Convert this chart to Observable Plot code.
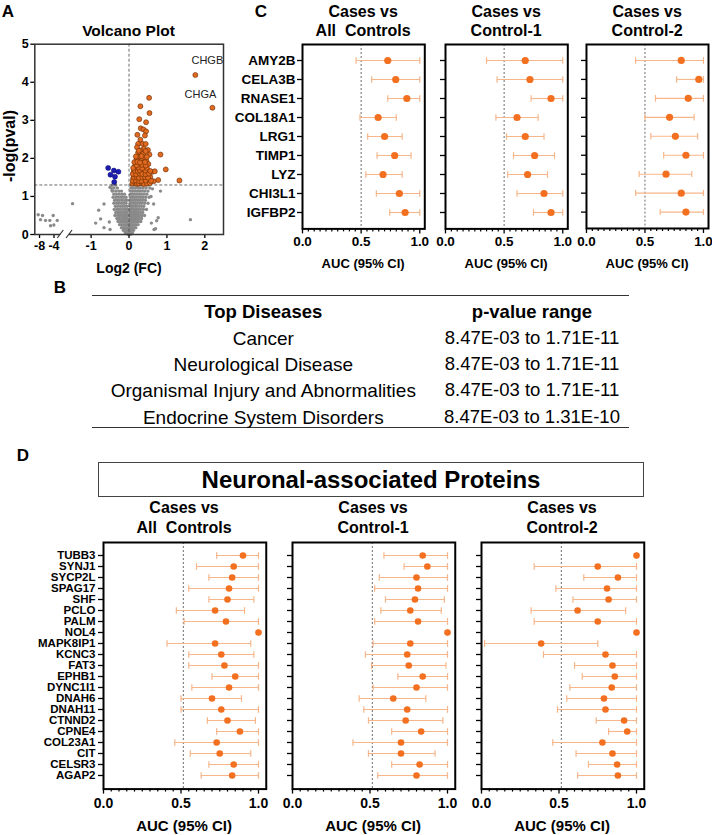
<!DOCTYPE html>
<html><head><meta charset="utf-8">
<script src="https://cdn.jsdelivr.net/npm/d3@7"></script>
<script src="https://cdn.jsdelivr.net/npm/@observablehq/plot@0.6"></script>
<style>
body{margin:0;background:#fff;}
#page{position:relative;width:712px;height:835px;overflow:hidden;font-family:"Liberation Sans",Arial,Helvetica,sans-serif;color:#000;background:#fff;}
.t{position:absolute;white-space:pre;line-height:1;}
svg{display:block;}
</style></head><body><div id="page"></div>
<script>
// ---------------- DATA ----------------
// Panel A volcano: [log2FC, -log10 p]
const volcanoOrange = [
 [1.75,4.19],[2.20,3.33],[0.53,3.59],[0.30,3.37],[0.54,3.19],[0.27,3.03],[0.45,2.95],[0.31,2.79],[0.38,2.76],[0.45,2.71],
 [0.22,2.62],[0.42,2.60],[0.30,2.49],[0.24,2.38],[0.36,2.38],[0.44,2.38],[0.21,2.29],[0.39,2.25],[0.30,2.21],[0.50,2.22],
 [0.24,2.15],[0.37,2.12],[0.54,2.10],[0.83,2.10],[0.25,2.03],[0.41,2.01],[0.20,1.97],[0.33,1.93],[0.46,1.93],[0.37,1.88],
 [0.25,1.85],[0.51,1.85],[0.16,1.80],[0.30,1.78],[0.41,1.76],[0.97,1.71],[0.21,1.71],[0.34,1.69],[0.51,1.67],[0.12,1.64],
 [0.25,1.63],[0.40,1.62],[0.60,1.64],[0.68,1.66],[0.16,1.56],[0.30,1.53],[0.47,1.56],[0.56,1.51],[0.77,1.43],[1.33,1.42],
 [0.11,1.48],[0.23,1.45],[0.38,1.45],[0.51,1.42],[0.14,1.38],[0.30,1.38],[0.43,1.38],[0.65,1.40],
 [0.09,1.34],[0.17,1.35],[0.21,1.33],[0.26,1.34],[0.34,1.35],[0.39,1.33],[0.47,1.34],[0.55,1.35],
 [0.10,1.41],[0.18,1.42],[0.27,1.40],[0.33,1.41],[0.44,1.42],[0.58,1.41],
 [0.13,1.50],[0.20,1.51],[0.26,1.49],[0.35,1.50],[0.42,1.51],[0.50,1.49],
 [0.10,1.59],[0.19,1.58],[0.28,1.60],[0.35,1.59],[0.44,1.58],[0.52,1.60],
 [0.15,1.68],[0.23,1.67],[0.28,1.69],[0.43,1.68],[0.56,1.67],
 [0.11,1.75],[0.25,1.76],[0.35,1.74],[0.47,1.75],
 [0.20,1.82],[0.34,1.83],[0.44,1.81],
 [0.14,1.90],[0.22,1.91],[0.29,1.89],[0.42,1.90],
 [0.18,2.05],[0.33,2.06],[0.47,2.04],[0.26,2.20],[0.44,2.19]
];
const volcanoBlue = [[-0.55,1.75],[-0.40,1.68],[-0.28,1.65],[-0.49,1.57],[-0.37,1.52],[-0.39,1.38]];
const volcanoGrayScatter = [
 [-8.37,0.52],[-7.17,0.50],[-7.73,0.39],[-6.35,0.37],[-5.16,0.37],[-4.22,0.50],[-3.11,0.37],[-4.05,0.25],[-4.96,0.23],
 [-1.49,0.81],[0.83,1.14],[1.62,0.39],[0.70,0.15],[0.66,0.13],[0.73,0.36],[-0.66,0.80],[-0.80,0.64],[-0.88,0.30],
 [-0.66,0.18],[-0.50,0.13],[-0.52,0.33],[0.65,0.80],[0.77,0.44],[0.59,0.30],[-0.75,0.41],[-0.50,1.24],[-0.45,1.15],
 [0.58,1.00],[0.62,1.20]
];
// dense grey cloud, read row by row: [-log10 p, [log2FC values]]
const volcanoGrayRows = [
 [1.30,[-0.44,-0.36,0.06,0.13,0.20,0.27,0.34,0.42,0.50]],
 [1.22,[-0.47,-0.40,-0.31,0.05,0.11,0.17,0.24,0.30,0.37,0.45,0.55]],
 [1.14,[-0.43,-0.35,-0.27,-0.20,0.05,0.10,0.16,0.22,0.28,0.35,0.42,0.50]],
 [1.06,[-0.40,-0.33,-0.26,-0.19,-0.12,0.04,0.09,0.14,0.20,0.26,0.32,0.39,0.47]],
 [0.98,[-0.42,-0.35,-0.28,-0.21,-0.15,-0.08,0.04,0.09,0.14,0.19,0.25,0.31,0.37,0.44,0.53]],
 [0.90,[-0.38,-0.31,-0.25,-0.18,-0.11,-0.06,0.03,0.08,0.13,0.18,0.24,0.30,0.36,0.43]],
 [0.82,[-0.40,-0.33,-0.27,-0.20,-0.14,-0.08,0.03,0.07,0.12,0.17,0.22,0.28,0.34,0.41,0.50]],
 [0.74,[-0.36,-0.30,-0.23,-0.17,-0.11,-0.05,0.03,0.07,0.11,0.16,0.21,0.27,0.33,0.39]],
 [0.66,[-0.39,-0.32,-0.26,-0.20,-0.14,-0.08,-0.03,0.02,0.06,0.11,0.15,0.20,0.25,0.31,0.38,0.46]],
 [0.58,[-0.35,-0.29,-0.23,-0.17,-0.11,-0.06,0.02,0.06,0.10,0.15,0.19,0.24,0.30,0.36]],
 [0.50,[-0.37,-0.30,-0.24,-0.18,-0.13,-0.08,-0.03,0.02,0.06,0.10,0.14,0.18,0.23,0.28,0.34,0.41]],
 [0.42,[-0.32,-0.26,-0.20,-0.15,-0.10,-0.05,0.02,0.05,0.09,0.13,0.17,0.22,0.27,0.33]],
 [0.34,[-0.29,-0.23,-0.18,-0.13,-0.08,-0.04,0.01,0.05,0.08,0.12,0.16,0.20,0.25,0.31]],
 [0.26,[-0.25,-0.20,-0.15,-0.10,-0.06,-0.02,0.01,0.04,0.07,0.11,0.15,0.19,0.24]],
 [0.18,[-0.20,-0.15,-0.11,-0.07,-0.03,0.01,0.04,0.07,0.10,0.14,0.18]],
 [0.11,[-0.15,-0.11,-0.07,-0.04,-0.01,0.02,0.05,0.08,0.12]],
 [0.05,[-0.10,-0.06,-0.03,0.00,0.03,0.06,0.09]],
 [0.01,[-0.04,-0.01,0.02,0.05]]
];
const volcanoLabels = ["CHGB","CHGA"];
const volcanoLabelPts = [[1.75,4.19],[2.20,3.33]];
const volcanoYTicks = [0,1,2,3,4,5];
const volcanoXTicks = [-8,-4,-1,0,1,2];
const sigThreshold = 1.301;

// Panel C
const genesC = ["AMY2B","CELA3B","RNASE1","COL18A1","LRG1","TIMP1","LYZ","CHI3L1","IGFBP2"];
const cAllEst = [0.727,0.795,0.89,0.645,0.70,0.786,0.687,0.826,0.875];
const cAllLo  = [0.457,0.59,0.727,0.49,0.556,0.636,0.54,0.63,0.744];
const cAllHi  = [1,1,1,0.80,0.85,0.926,0.85,1,1];
const cC1Est  = [0.68,0.72,0.90,0.61,0.68,0.76,0.70,0.84,0.90];
const cC1Lo   = [0.35,0.44,0.73,0.43,0.52,0.58,0.53,0.61,0.75];
const cC1Hi   = [1,1,1,0.79,0.84,0.93,0.87,1,1];
const cC2Est  = [0.81,0.96,0.87,0.71,0.76,0.85,0.68,0.81,0.85];
const cC2Lo   = [0.42,0.77,0.59,0.50,0.55,0.66,0.45,0.42,0.63];
const cC2Hi   = [1,1,1,0.92,0.95,1,0.90,1,1];

// Panel D
const genesD = ["TUBB3","SYNJ1","SYCP2L","SPAG17","SHF","PCLO","PALM","NOL4","MAPK8IP1","KCNC3","FAT3","EPHB1","DYNC1I1","DNAH6","DNAH11","CTNND2","CPNE4","COL23A1","CIT","CELSR3","AGAP2"];
const dAllEst = [0.90,0.84,0.83,0.81,0.80,0.72,0.79,1.00,0.72,0.76,0.78,0.85,0.81,0.70,0.76,0.80,0.88,0.73,0.75,0.84,0.83];
const dAllLo  = [0.73,0.60,0.68,0.55,0.68,0.47,0.52,1.00,0.41,0.55,0.55,0.70,0.57,0.50,0.50,0.67,0.73,0.46,0.56,0.68,0.63];
const dAllHi  = [1,1,1,1,0.97,0.91,1,1,0.95,0.97,1,1,1,0.89,1,0.98,1,1,0.95,1,1];
const dC1Est  = [0.84,0.87,0.80,0.81,0.79,0.76,0.81,1.00,0.76,0.74,0.75,0.84,0.80,0.65,0.74,0.73,0.83,0.70,0.70,0.82,0.80];
const dC1Lo   = [0.59,0.72,0.56,0.53,0.60,0.57,0.53,1.00,0.52,0.47,0.51,0.68,0.52,0.43,0.46,0.49,0.64,0.39,0.49,0.64,0.55];
const dC1Hi   = [1,1,1,1,0.98,0.96,1,1,1,1,0.99,1,1,0.86,1,0.97,1,1,0.92,1,1];
const dC2Est  = [1.00,0.75,0.88,0.81,0.82,0.62,0.75,1.00,0.385,0.80,0.845,0.86,0.84,0.79,0.80,0.92,0.94,0.78,0.845,0.875,0.88];
const dC2Lo   = [1.00,0.34,0.66,0.48,0.59,0.32,0.34,1.00,0.02,0.40,0.60,0.65,0.57,0.55,0.49,0.74,0.82,0.46,0.61,0.69,0.62];
const dC2Hi   = [1,1,1,1,1,0.93,1,1,0.75,1,1,1,1,1,1,1,1,1,1,1,1];

const aucTicks = [0, 0.5, 1];
const aucMinorTicks = [0.05,0.1,0.15,0.2,0.25,0.3,0.35,0.4,0.45,0.55,0.6,0.65,0.7,0.75,0.8,0.85,0.9,0.95];
const comparisonTitles = [["Cases vs","All  Controls"],["Cases vs","Control-1"],["Cases vs","Control-2"]];

// Panel B table
const tableHeaders = ["Top Diseases","p-value range"];
const diseases = ["Cancer","Neurological Disease","Organismal Injury and Abnormalities","Endocrine System Disorders"];
const pRanges = ["8.47E-03 to 1.71E-11","8.47E-03 to 1.71E-11","8.47E-03 to 1.71E-11","8.47E-03 to 1.31E-10"];

// ---------------- HELPERS ----------------
const FONT = '"Liberation Sans", Arial, Helvetica, sans-serif';
const page = document.getElementById("page");
function txt(s, cx, cy, size, weight = "bold", rot = 0) {
  const d = document.createElement("div");
  d.className = "t";
  d.textContent = s;
  d.style.left = cx + "px"; d.style.top = cy + "px";
  d.style.fontSize = size + "px"; d.style.fontWeight = weight;
  d.style.transform = "translate(-50%,-50%)" + (rot ? ` rotate(${rot}deg)` : "");
  page.appendChild(d);
}
function place(node, left, top) {
  const d = document.createElement("div");
  d.style.position = "absolute"; d.style.left = left + "px"; d.style.top = top + "px";
  d.appendChild(node); page.appendChild(d);
}
function box(left, top, w, h, css) {
  const d = document.createElement("div");
  d.style.position = "absolute"; d.style.left = left + "px"; d.style.top = top + "px";
  d.style.width = w + "px"; d.style.height = h + "px";
  d.style.boxSizing = "border-box";
  Object.assign(d.style, css);
  page.appendChild(d);
  return d;
}

const ORANGE = "#f37021", CI = "#f6b68a";

function forest(names, est, lo, hi, opt) {
  const data = names.map((n, i) => ({n, e: est[i], lo: lo[i], hi: hi[i]}));
  const mL = 10, mT = 2, mR = 4, mB = 40;
  const p = Plot.plot({
    width: mL + opt.plotW + mR, height: mT + opt.plotH + mB,
    marginLeft: mL, marginRight: mR, marginTop: mT, marginBottom: mB,
    style: {overflow: "visible", fontFamily: FONT, background: "transparent", color: "#000"},
    x: {domain: [0, opt.xmax], label: null},
    y: {type: "point", domain: names, padding: opt.padding, label: null},
    marks: [
      Plot.ruleX([opt.ref], {stroke: "#444", strokeWidth: 0.8, strokeDasharray: "2,2"}),
      Plot.link(data, {x1: "lo", x2: "hi", y1: "n", y2: "n", stroke: CI, strokeWidth: 1.1, markerStart: "tick", markerEnd: "tick"}),
      Plot.dot(data, {x: "e", y: "n", r: opt.r, fill: ORANGE, stroke: "none"}),
      Plot.axisY({tickSize: 5, tickPadding: opt.yPad, fontSize: opt.yFont, fontWeight: "bold", label: null,
        tickFormat: opt.labels ? (d => d) : (() => ""), strokeWidth: 1.3}),
      Plot.axisX({ticks: aucMinorTicks, tickSize: 3, tickFormat: () => "", label: null, strokeWidth: 1.2}),
      Plot.axisX({ticks: aucTicks, tickSize: 5, tickPadding: opt.xPad, fontSize: opt.xFont, fontWeight: "bold",
        tickFormat: d => d.toFixed(1), label: null, strokeWidth: 1.3}),
      Plot.frame({stroke: "#000", strokeWidth: 2})
    ]
  });
  place(p, opt.left - mL, opt.top - mT);
}

// ---------------- PANEL A ----------------
function brk(x) { return x < -2.5 ? -1.979 + (x + 4) * 0.0955 : x; }
const grayPts = volcanoGrayScatter.concat(volcanoGrayRows.flatMap(([y, xs]) => xs.map(x => [x, y])));
const xTickPos = volcanoXTicks.map(brk);
const xTickLab = new Map(xTickPos.map((p, i) => [p, String(volcanoXTicks[i])]));
const labelData = volcanoLabels.map((t, i) => ({t, x: volcanoLabelPts[i][0], y: volcanoLabelPts[i][1]}));
const vol = Plot.plot({
  width: 230, height: 280, marginLeft: 34.3, marginRight: 7, marginTop: 43.7, marginBottom: 46,
  style: {overflow: "visible", fontFamily: FONT, background: "transparent", color: "#000"},
  x: {domain: [-2.486, 2.493], label: null},
  y: {domain: [0, 5], label: null},
  marks: [
    Plot.dot(grayPts, {x: d => brk(d[0]), y: d => d[1], r: 1.7, fill: "#8a8a8a", stroke: "none"}),
    Plot.ruleY([sigThreshold], {stroke: "#444", strokeWidth: 0.8, strokeDasharray: "3,2"}),
    Plot.ruleX([0], {stroke: "#444", strokeWidth: 0.8, strokeDasharray: "3,2"}),
    Plot.dot(volcanoBlue, {x: d => brk(d[0]), y: d => d[1], r: 2.5, fill: "#1d1db0", stroke: "#000070", strokeWidth: 0.5}),
    Plot.dot(volcanoOrange, {x: d => brk(d[0]), y: d => d[1], r: 2.5, fill: "#e06a20", stroke: "#6a2a00", strokeWidth: 0.6}),
    Plot.text(labelData.filter(d => d.t === "CHGB"), {x: "x", y: "y", text: "t", dx: 12, dy: -15, fontSize: 11, fontWeight: "normal", fill: "#222"}),
    Plot.text(labelData.filter(d => d.t === "CHGA"), {x: "x", y: "y", text: "t", dx: -12, dy: -13, fontSize: 11, fontWeight: "normal", fill: "#222"}),
    Plot.axisY({ticks: volcanoYTicks, tickFormat: d => String(d), tickSize: 4, tickPadding: 2, fontSize: 12.5, fontWeight: "bold", label: null, strokeWidth: 1.3}),
    Plot.axisX({ticks: xTickPos, tickFormat: d => xTickLab.get(d), tickSize: 4, tickPadding: 3, fontSize: 12.5, fontWeight: "bold", label: null, strokeWidth: 1.3}),
    Plot.frame({stroke: "#333", strokeWidth: 1.5})
  ]
});
// axis break marks
{
  const sx = vol.scale("x"), sy = vol.scale("y");
  const xa = sx.apply(-1.80), xb = sx.apply(-1.57), y0 = sy.apply(0);
  const g = d3.select(vol).append("g");
  g.append("rect").attr("x", xa).attr("y", y0 - 2).attr("width", xb - xa).attr("height", 4).attr("fill", "#fff");
  for (const x of [xa, xb]) g.append("line").attr("x1", x - 3).attr("y1", y0 + 4).attr("x2", x + 3).attr("y2", y0 - 4).attr("stroke", "#333").attr("stroke-width", 1.2);
}
place(vol, 0, 0);
txt("A", 8, 11, 17);
txt("Volcano Plot", 128.5, 31, 15.5);
txt("-log(pval)", 10, 146, 16, "bold", -90);
txt("Log2 (FC)", 129, 267.5, 14);

// ---------------- PANEL C ----------------
txt("C", 261, 11, 17);
const cLefts = [302, 445, 586];
const cSets = [[cAllEst, cAllLo, cAllHi], [cC1Est, cC1Lo, cC1Hi], [cC2Est, cC2Lo, cC2Hi]];
const cW = 122.3, cH = 184.4, cX = 1.043;
cSets.forEach(([e, l, h], i) => {
  forest(genesC, e, l, h, {left: cLefts[i], top: 44.3, plotW: cW, plotH: cH, xmax: cX, padding: 0.66, ref: 0.5,
    r: 3.6, labels: i === 0, yFont: 13.5, yPad: 2, xFont: 13.5, xPad: 3});
  const cx = cLefts[i] + cW / 2;
  txt(comparisonTitles[i][0], cx, 11.5, 16);
  txt(comparisonTitles[i][1], cx, 31, 16);
  txt("AUC (95% CI)", cx, 263, 13);
});

// ---------------- PANEL B ----------------
txt("B", 60, 287, 17);
box(92, 294.5, 537, 1.5, {background: "#333"});
box(92, 426.5, 537, 1.5, {background: "#333"});
const rowY = [338.3, 364.3, 390.3, 416.5];
txt(tableHeaders[0], 263.3, 312.3, 18.5, "bold");
txt(tableHeaders[1], 532, 312.3, 18.5, "bold");
diseases.forEach((d, i) => { txt(d, 263.3, rowY[i], 19, "normal"); txt(pRanges[i], 532, rowY[i], 18.5, "normal"); });

// ---------------- PANEL D ----------------
txt("D", 23, 455, 17);
box(98.3, 461.7, 545.7, 35, {border: "1.5px solid #444"});
txt("Neuronal-associated Proteins", 371, 480, 24);
const dLefts = [102.7, 291.7, 480.7];
const dSets = [[dAllEst, dAllLo, dAllHi], [dC1Est, dC1Lo, dC1Hi], [dC2Est, dC2Lo, dC2Hi]];
const dW = 162.75, dH = 246.6, dX = 1.05;
dSets.forEach(([e, l, h], i) => {
  forest(genesD, e, l, h, {left: dLefts[i], top: 541.7, plotW: dW, plotH: dH, xmax: dX, padding: 0.68, ref: 0.515,
    r: 3.3, labels: i === 0, yFont: 11.5, yPad: 3, xFont: 14, xPad: 4});
  const cx = dLefts[i] + dW / 2;
  txt(comparisonTitles[i][0], cx, 508, 16);
  txt(comparisonTitles[i][1], cx, 527.7, 16);
  txt("AUC (95% CI)", cx, 825, 15);
});
</script></body></html>
